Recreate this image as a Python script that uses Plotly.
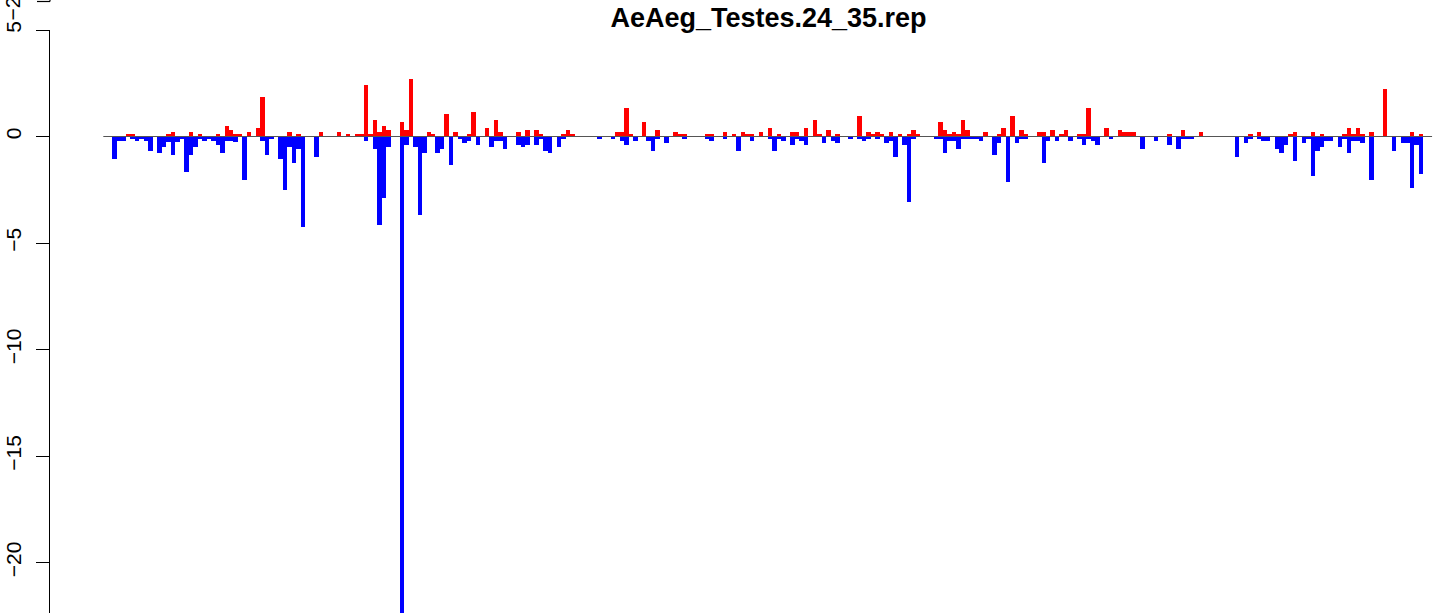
import plotly.graph_objects as go

title_text = "AeAeg_Testes.24_35.rep"

# positive (red) values per bin
red_vals = [
    0, 0, 0, 0, 0, 0.11, 0.11, 0, 0, 0, 0, 0, 0, 0, 0.11, 0.2,
    0, 0, 0, 0.2, 0, 0.11, 0, 0, 0, 0.11, 0, 0.49, 0.3, 0.11, 0.11, 0,
    0.2, 0, 0.39, 1.85, 0, 0, 0, 0, 0, 0.2, 0, 0.11, 0, 0, 0, 0,
    0.2, 0, 0, 0, 0.2, 0, 0.11, 0, 0.11, 0.11, 2.41, 0.11, 0.77, 0.2, 0.49, 0.3,
    0, 0, 0.67, 0.3, 2.69, 0, 0, 0, 0.2, 0.11, 0, 0, 1.05, 0, 0.2, 0,
    0, 0.11, 1.14, 0, 0, 0.39, 0, 0.77, 0.2, 0, 0, 0, 0.2, 0, 0.3, 0,
    0.3, 0.11, 0, 0, 0, 0, 0.11, 0.3, 0.11, 0, 0, 0, 0, 0, 0, 0,
    0, 0, 0.2, 0.2, 1.33, 0.11, 0, 0, 0.67, 0, 0, 0.3, 0, 0, 0, 0.2,
    0.11, 0.11, 0, 0, 0, 0, 0.11, 0.11, 0, 0, 0.2, 0, 0.11, 0, 0.2, 0.11,
    0.11, 0, 0.2, 0, 0.39, 0, 0.11, 0, 0, 0.2, 0.2, 0, 0.39, 0, 0.77, 0.11,
    0, 0.3, 0, 0.11, 0, 0, 0, 0, 0.95, 0, 0.2, 0.11, 0.2, 0.11, 0, 0.2,
    0, 0.11, 0, 0.11, 0.3, 0.11, 0, 0, 0, 0, 0.67, 0.3, 0.11, 0.2, 0.11, 0.77,
    0.3, 0, 0, 0, 0.2, 0, 0, 0.11, 0.39, 0, 0.95, 0, 0.3, 0.11, 0, 0,
    0.2, 0.2, 0, 0.3, 0, 0.11, 0.3, 0, 0, 0.11, 0.11, 1.33, 0, 0, 0, 0.39,
    0, 0, 0.3, 0.2, 0.2, 0.2, 0, 0, 0, 0, 0, 0, 0, 0.11, 0, 0,
    0.3, 0, 0, 0, 0.2, 0, 0, 0, 0, 0, 0, 0, 0, 0, 0, 0.11,
    0, 0.2, 0, 0, 0, 0, 0, 0, 0.11, 0.2, 0, 0, 0, 0.2, 0, 0.11,
    0, 0, 0, 0, 0.11, 0.39, 0.11, 0.39, 0.11, 0, 0.2, 0, 0, 2.22, 0, 0,
    0, 0, 0, 0.2, 0, 0.11, 0, 0,
]

# negative (blue) values per bin
blue_vals = [
    0, 0, -1.06, -0.2, -0.2, 0, -0.13, -0.2, -0.13, -0.2, -0.67, 0, -0.77, -0.49, -0.28, -0.86,
    -0.28, -0.1, -1.66, -0.86, -0.49, -0.1, -0.2, -0.1, -0.2, -0.4, -0.77, -0.2, -0.2, -0.28, 0, -2.02,
    0, 0, 0, -0.2, -0.86, -0.1, 0, -1.06, -2.5, -0.49, -1.24, -0.58, -4.24, 0, 0, -0.95,
    0, 0, 0, 0, 0, 0, 0, 0, 0, 0, -0.2, 0, -0.58, -4.15, -2.88, -0.49,
    0, 0, -24, -0.39, 0, -0.49, -3.68, -0.77, 0, 0, -0.77, -0.58, 0, -1.33, 0, -0.11,
    -0.3, -0.2, 0, -0.39, 0, 0, -0.49, -0.2, -0.2, -0.58, 0, 0, -0.39, -0.49, -0.39, 0,
    -0.39, -0.11, -0.67, -0.77, 0, -0.49, -0.11, 0, 0, 0, 0, 0, 0, 0, -0.11, 0,
    0, -0.11, 0, -0.2, -0.39, 0, -0.2, 0, 0, -0.2, -0.67, -0.11, 0, -0.3, 0, 0,
    0, -0.11, 0, 0, 0, 0, -0.11, -0.2, 0, 0, -0.11, 0, 0, -0.67, 0, 0,
    -0.2, 0, 0, 0, -0.11, -0.67, -0.11, -0.2, 0, -0.39, -0.11, -0.2, -0.39, 0, 0, 0,
    -0.3, 0, -0.2, -0.3, 0, 0, -0.11, 0, -0.11, -0.2, -0.11, 0, -0.11, 0, -0.3, -0.2,
    -0.95, 0, -0.39, -3.07, -0.11, 0, 0, 0, 0, -0.11, -0.11, -0.77, -0.2, -0.2, -0.58, -0.11,
    -0.11, -0.11, -0.11, -0.2, 0, 0, -0.86, -0.3, 0, -2.13, 0, -0.3, -0.11, -0.11, 0, 0,
    0, -1.24, -0.2, 0, -0.2, 0, 0, -0.2, 0, -0.11, -0.39, -0.11, -0.2, -0.39, 0, 0,
    -0.11, 0, 0, 0, 0, 0, 0, -0.58, 0, 0, -0.2, 0, 0, -0.39, 0, -0.58,
    -0.11, -0.11, -0.11, 0, 0, 0, 0, 0, 0, 0, 0, 0, -0.95, 0, -0.3, -0.11,
    0, -0.11, -0.2, -0.2, 0, -0.58, -0.77, -0.39, 0, -1.14, 0, -0.3, -0.11, -1.86, -0.67, -0.49,
    -0.2, -0.2, 0, -0.49, -0.11, -0.77, -0.2, -0.2, -0.3, 0, -2.03, 0, 0, 0, 0, -0.67,
    0, -0.3, -0.3, -2.41, -0.39, -1.75, 0, 0,
]

y_tick_vals = [5, 0, -5, -10, -15, -20]
y_tick_text = ["5", "0", "\u22125", "\u221210", "\u221215", "\u221220"]

n_bins = len(red_vals)
assert n_bins == len(blue_vals) == 296
bins = list(range(n_bins))

fig = go.Figure()
fig.add_trace(go.Bar(x=bins, y=blue_vals, width=1.0, marker=dict(color="#0000FF", line=dict(width=0)),
                     showlegend=False, hoverinfo="skip"))
fig.add_trace(go.Bar(x=bins, y=red_vals, width=1.0, marker=dict(color="#FF0000", line=dict(width=0)),
                     showlegend=False, hoverinfo="skip"))

# baseline across all bins
fig.add_shape(type="line", xref="x", yref="y", x0=-0.5, x1=n_bins - 0.5, y0=0, y1=0,
              line=dict(color="#555555", width=1.2), layer="above")

W, H = 1444, 613
ml, mt = 50, 30
pw, ph = W - ml, H - mt

# cut-off axis of the panel above
fig.add_shape(type="line", xref="paper", yref="paper",
              x0=(37 - ml) / pw, x1=0, y0=1 + (mt - 1.5) / ph, y1=1 + (mt - 1.5) / ph,
              line=dict(color="black", width=1.2))
fig.add_shape(type="line", xref="paper", yref="paper",
              x0=0, x1=0, y0=1 + (mt - 1.5) / ph, y1=1 + mt / ph,
              line=dict(color="black", width=1.2))
fig.add_annotation(text="\u221225", xref="paper", yref="paper",
                   x=(12.5 - ml) / pw, y=1 + (mt - 3) / ph, xanchor="center", yanchor="middle",
                   textangle=-90, showarrow=False,
                   font=dict(family="Liberation Sans, Arial", size=21, color="black"))

fig.update_layout(
    width=W, height=H,
    margin=dict(l=ml, r=0, t=mt, b=0, pad=0, autoexpand=False),
    paper_bgcolor="white", plot_bgcolor="white",
    barmode="overlay", bargap=0,
    title=dict(text="<b>" + title_text + "</b>", x=768.5 / W, xref="container", xanchor="center",
               y=1 - 18 / H, yref="container", yanchor="middle", automargin=False,
               font=dict(family="Liberation Sans, Arial", size=27, color="black")),
    xaxis=dict(visible=False, range=[-12.373, 298.16], automargin=False),
    yaxis=dict(range=[-22.37, 5.001], tickmode="array", tickvals=y_tick_vals, ticktext=y_tick_text,
               showline=True, linecolor="black", linewidth=1.2, ticks="outside", ticklen=13,
               tickwidth=1.2, tickcolor="black", tickangle=-90, showgrid=False, zeroline=False,
               ticklabelstandoff=7, automargin=False,
               tickfont=dict(family="Liberation Sans, Arial", size=21, color="black")),
)

fig.write_html("out.html", config={"displayModeBar": False},
               post_script="document.body.style.margin='0';document.body.style.overflow='hidden';")
